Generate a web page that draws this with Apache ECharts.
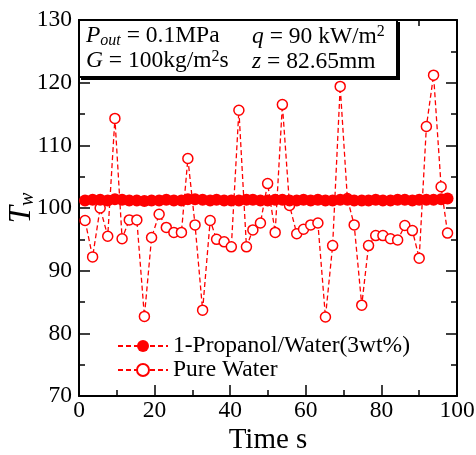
<!DOCTYPE html>
<html><head><meta charset="utf-8">
<script src="https://cdn.jsdelivr.net/npm/echarts@6/dist/echarts.min.js"></script>
<style>html,body{margin:0;padding:0;background:#fff}#c{width:476px;height:455px}</style>
</head><body><div id="c"></div>
<script>
const times = [1.6,3.6,5.6,7.6,9.5,11.4,13.3,15.3,17.3,19.2,21.2,23.1,25.1,27.1,28.8,30.7,32.7,34.7,36.4,38.4,40.3,42.3,44.3,46.0,48.0,49.9,51.9,53.8,55.7,57.6,59.4,61.3,63.2,65.2,67.1,69.1,71.0,72.8,74.8,76.6,78.5,80.4,82.4,84.3,86.2,88.2,90.0,91.9,93.8,95.8,97.5];
const propanolWater = [101.2,101.3,101.3,101.2,101.4,101.3,101.2,101.2,101.1,101.2,101.2,101.3,101.2,101.2,101.4,101.4,101.3,101.2,101.3,101.2,101.2,101.2,101.3,101.3,101.2,101.2,101.3,101.3,101.2,101.2,101.3,101.2,101.3,101.2,101.2,101.3,101.3,101.2,101.2,101.2,101.3,101.2,101.2,101.3,101.3,101.2,101.3,101.3,101.3,101.4,101.5];
const pureWater = [98.0,92.2,100.0,95.5,114.3,95.1,98.1,98.1,82.7,95.3,99.0,96.9,96.1,96.1,107.9,97.3,83.7,98.0,95.0,94.6,93.8,115.6,93.8,96.5,97.6,103.9,96.1,116.5,100.4,95.9,96.6,97.3,97.6,82.6,94.0,119.4,101.5,97.3,84.5,94.0,95.6,95.6,95.1,94.9,97.2,96.4,92.0,113.0,121.2,103.4,96.0];
const seriesNames = ['1-Propanol/Water(3wt%)', 'Pure Water'];
const xTicks = {min:0, max:100, interval:20};
const yTicks = {min:70, max:130, interval:10};

const FF = '"Liberation Serif","Times New Roman",serif';
const FS = 23.5;
const chart = echarts.init(document.getElementById('c'), null, {renderer:'canvas'});
const zip = (xs, ys) => xs.map((x,i)=>[x, ys[i]]);

function axisCommon(showLabel, margin){
  return {
    axisLine:{show:true, onZero:false, lineStyle:{color:'#000', width:2}},
    axisTick:{show:true, inside:true, length:11, lineStyle:{color:'#000', width:1.5}},
    minorTick:{show:true, splitNumber:2, length:6, lineStyle:{color:'#000', width:1.5}},
    splitLine:{show:false},
    axisLabel:{show:showLabel, color:'#000', fontSize:FS, fontFamily:FF, margin:margin}
  };
}

const option = {
  animation:false,
  backgroundColor:'#fff',
  grid:{left:79, right:19, top:20, bottom:59, containLabel:false, outerBoundsMode:'none'},
  xAxis:[
    Object.assign({type:'value', position:'bottom', min:xTicks.min, max:xTicks.max, interval:xTicks.interval,
      name:'Time s', nameLocation:'middle', nameGap:30, nameMoveOverlap:false,
      nameTextStyle:{color:'#000', fontSize:29, fontFamily:FF}}, axisCommon(true, 3)),
    Object.assign({type:'value', position:'top', min:xTicks.min, max:xTicks.max, interval:xTicks.interval}, axisCommon(false, 3))
  ],
  yAxis:[
    Object.assign({type:'value', position:'left', min:yTicks.min, max:yTicks.max, interval:yTicks.interval,
      name:'{t|T}{s|w}', nameLocation:'middle', nameGap:41, nameRotate:90, nameMoveOverlap:false,
      nameTextStyle:{color:'#000', fontFamily:FF, rich:{
        t:{fontSize:31, fontStyle:'italic', fontFamily:FF, color:'#000', lineHeight:32},
        s:{fontSize:20, fontStyle:'italic', fontFamily:FF, color:'#000', lineHeight:14, verticalAlign:'bottom'}
      }}}, axisCommon(true, 7)),
    Object.assign({type:'value', position:'right', min:yTicks.min, max:yTicks.max, interval:yTicks.interval}, axisCommon(false, 7))
  ],
  legend:{
    orient:'vertical', left:117, top:334, itemWidth:50, itemHeight:15, itemGap:0, padding:0,
    data:seriesNames,
    textStyle:{color:'#000', fontSize:FS, fontFamily:FF, lineHeight:24}
  },
  series:[
    {name:seriesNames[1], type:'line', data:zip(times, pureWater), z:2,
      symbol:'circle', symbolSize:10, showSymbol:true,
      lineStyle:{color:'#ff0000', width:1.3, type:[5,3]},
      itemStyle:{color:'#fff', borderColor:'#ff0000', borderWidth:1.5}},
    {name:seriesNames[0], type:'line', data:zip(times, propanolWater), z:3,
      symbol:'circle', symbolSize:12, showSymbol:true,
      lineStyle:{color:'#ff0000', width:1.3, type:[5,3]},
      itemStyle:{color:'#ff0000', borderColor:'#ff0000', borderWidth:0}}
  ],
  graphic:[
    {type:'rect', z:10, shape:{x:81, y:22, width:319, height:58}, style:{fill:'#000'}},
    {type:'rect', z:11, shape:{x:79, y:20, width:318, height:57}, style:{fill:'#fff', stroke:'#000', lineWidth:2}},
    {type:'text', z:12, left:86, top:24, style:{
      text:'{i|P}{sub|out}{n| = 0.1MPa}\n{i|G}{n| = 100kg/m}{sup|2}{n|s}',
      fontFamily:FF, fill:'#000',
      rich:{
        i:{fontSize:FS, fontStyle:'italic', fontFamily:FF, lineHeight:25},
        n:{fontSize:FS, fontFamily:FF, lineHeight:25},
        sub:{fontSize:16, fontStyle:'italic', fontFamily:FF, lineHeight:10, verticalAlign:'bottom'},
        sup:{fontSize:16, fontFamily:FF, lineHeight:10, verticalAlign:'top'}
      }}},
    {type:'text', z:12, left:252, top:24, style:{
      text:'{i|q}{n| = 90 kW/m}{sup|2}\n{i|z}{n| = 82.65mm}',
      fontFamily:FF, fill:'#000',
      rich:{
        i:{fontSize:FS, fontStyle:'italic', fontFamily:FF, lineHeight:25},
        n:{fontSize:FS, fontFamily:FF, lineHeight:25},
        sup:{fontSize:16, fontFamily:FF, lineHeight:10, verticalAlign:'top'}
      }}}
  ]
};
chart.setOption(option);
</script></body></html>
